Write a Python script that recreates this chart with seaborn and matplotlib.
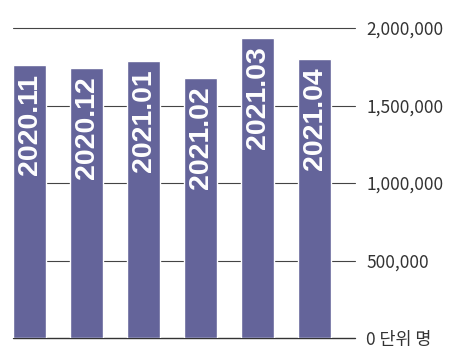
import matplotlib
matplotlib.use("Agg")
import matplotlib.pyplot as plt
import seaborn as sns
import pandas as pd

months = ["2020.11", "2020.12", "2021.01", "2021.02", "2021.03", "2021.04"]
values = [1760000, 1745000, 1785000, 1680000, 1935000, 1800000]
tick_values = [0, 500000, 1000000, 1500000, 2000000]
tick_labels = ["0 단위 명", "500,000", "1,000,000", "1,500,000", "2,000,000"]

sns.set_theme(style="white")
plt.rcParams["font.family"] = ["Noto Sans CJK KR", "DejaVu Sans"]

df = pd.DataFrame({"month": months, "value": values})

fig = plt.figure(figsize=(4.5, 3.5), dpi=100)
ax = fig.add_axes([13 / 450, 12 / 350, 342 / 450, 310 / 350])

for v in tick_values:
    ax.axhline(v, color="#333333" if v == 0 else "#444444",
               lw=1.0 if v == 0 else 0.8, zorder=0, clip_on=False)

sns.barplot(data=df, x="month", y="value", color="#64649a", saturation=1,
            width=0.58, ax=ax, zorder=2)

for i, (m, v) in enumerate(zip(months, values)):
    ax.annotate(m, xy=(i, v), xytext=(0, -6), textcoords="offset points",
                rotation=90, ha="center", va="top", color="white",
                fontsize=20.5, fontweight="bold", family="Liberation Sans", zorder=3)

ax.set_xlim(-0.29, 5.71)
ax.set_ylim(0, 2000000)
ax.set_xticks([])
ax.set_xlabel("")
ax.set_ylabel("")
ax.yaxis.tick_right()
ax.set_yticks(tick_values)
ax.set_yticklabels(tick_labels, fontsize=12.5, color="#333333")
for lbl in ax.get_yticklabels():
    lbl.set_y(lbl.get_position()[1])
ax.tick_params(axis="y", length=0, pad=8)
for s in ax.spines.values():
    s.set_visible(False)

fig.savefig("out.png", dpi=100)
